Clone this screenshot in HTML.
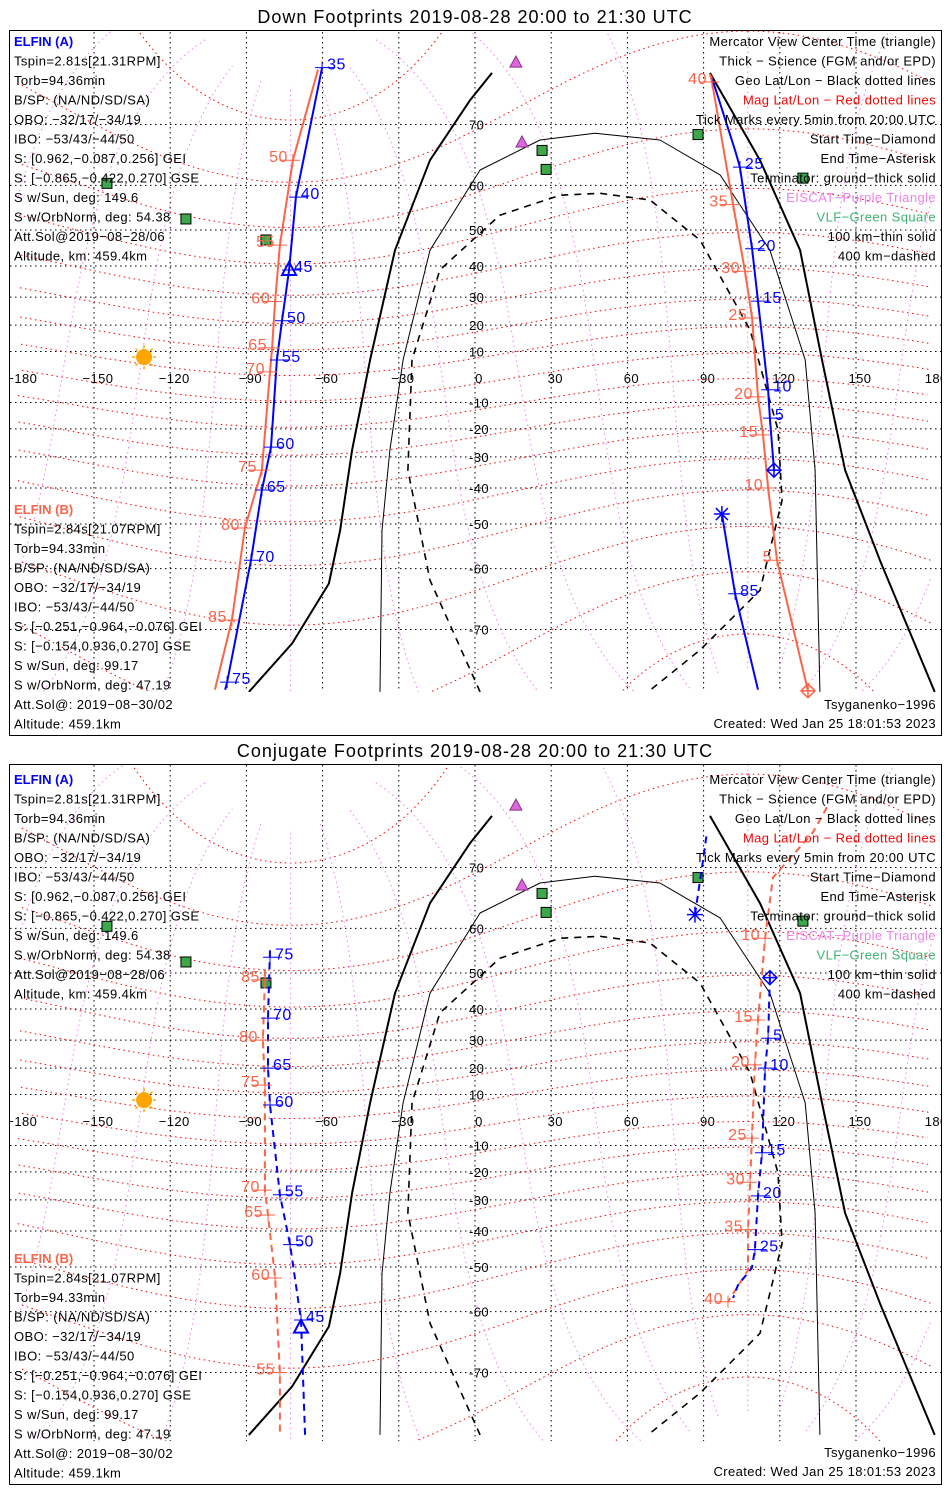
<!DOCTYPE html>
<html><head><meta charset="utf-8">
<style>
html,body{margin:0;padding:0;background:#fff;}
svg{display:block;font-family:"Liberation Sans",sans-serif;}
.t{font-size:13px;letter-spacing:0.4px;fill:#000;}
.ttl{font-size:18px;letter-spacing:1px;fill:#000;}
</style></head>
<body>
<svg id="svg" width="950" height="1500" viewBox="0 0 950 1500" xmlns="http://www.w3.org/2000/svg">
<defs>
<clipPath id="clip1"><rect x="10" y="31" width="931" height="661"/></clipPath>
<clipPath id="clip2"><rect x="10" y="765" width="931" height="676"/></clipPath>
</defs>
<rect x="0" y="0" width="950" height="1500" fill="#fff"/>
<text class="ttl" x="475" y="23" text-anchor="middle">Down Footprints 2019-08-28 20:00 to 21:30 UTC</text>
<text class="ttl" x="475" y="757" text-anchor="middle">Conjugate Footprints 2019-08-28 20:00 to 21:30 UTC</text>
<rect x="9.5" y="30.5" width="932" height="705" fill="none" stroke="#000"/>
<rect x="9.5" y="764.5" width="932" height="720" fill="none" stroke="#000"/>
<g id="map1" clip-path="url(#clip1)"></g>
<g id="map2" clip-path="url(#clip2)"></g>
<g id="mk1"></g>
<g id="mk2"></g>
<g id="txt"></g>
</svg>
<script>
// ---------- data (geographic lon/lat in degrees) ----------
const gridLats=[-70,-60,-50,-40,-30,-20,-10,10,20,30,40,50,60,70];
const gridLons=[-150,-120,-90,-60,-30,0,30,60,90,120,150];
const lonTickLabels=[-180,-150,-120,-90,-60,-30,0,30,60,90,120,150,180];
const magLats=[-80,-70,-60,-50,-40,-30,-20,-10,0,10,20,30,40,50,60,70,80];
const magLons=[-180,-150,-120,-90,-60,-30,0,30,60,90,120,150];
const dipolePole=[80.6,-72.6];
// terminators
const termGroundLeftLon=[-89,-72,-57.5,-53.1,-48.4,-41.3,-31.5,-17.7,-2,6.7];
const termGroundLeftLat=[-76.9,-71.8,-62.8,-51.6,-27.6,6.7,44.6,64.6,73,75.9];
const termGroundRightLon=[92.5,112.2,128,136.6,145.7,159.4,181];
const termGroundRightLat=[75.9,64.6,44.6,6.7,-34.4,-58.3,-76.9];
const term100Lon=[-37.4,-36.6,-33.5,-28.3,-17.7,2,25.6,47.2,72.8,96.5,116.1,130,133.9,135.8];
const term100Lat=[-76.9,-51.6,-27.6,6.7,44.6,62.9,67.8,68.8,67.8,62,44.6,6.7,-34.4,-76.9];
const term400Lon=[2,-17.7,-26.4,-24.8,-13.8,9.8,33.5,49.2,68.9,88.6,108.3,119.3,120.9,112.2,88.6,68.1];
const term400Lat=[-76.9,-62.2,-34.4,6.7,38.8,53.6,58,58.4,57,47.4,18.2,-20.4,-43.6,-64,-72.6,-76.9];
// stations
const vlfLon=[-144.9,-113.8,-82.3,26.4,28,87.8,129.1];
const vlfLat=[60.4,52.7,47.4,66.2,63,68.6,61.4];
const eiscatLon=[16.1,18.5];
const eiscatLat=[76.9,67.5];
const sunLon=[-130.3];
const sunLat=[7.8];
// ---- panel 1 (down footprints) ----
const d1BlueALon=[-60.2,-70.5,-73.2,-76,-78,-80.3,-83.9,-88.2,-97.6,-98.4];
const d1BlueALat=[76.4,57.6,38.8,21.6,6.7,-26.6,-40.6,-58.3,-76,-76.7];
const d1BlueATickLon=[-60.2,-70.5,-73.2,-76,-78,-80.3,-83.9,-88.2,-97.6];
const d1BlueATickLat=[76.4,57.6,38.8,21.6,6.7,-26.6,-40.6,-58.3,-76];
const d1BlueATickLab=[35,40,45,50,55,60,65,70,75];
const d1RedALon=[-61.8,-71.7,-76.8,-78.7,-79.9,-80.7,-83.9,-90.6,-95.7,-102.4];
const d1RedALat=[76.2,64.6,46,28.5,11.4,2,-34.4,-51,-68.7,-76.7];
const d1RedATickLon=[-71.7,-76.8,-78.7,-79.9,-80.7,-83.9,-90.6,-95.7];
const d1RedATickLat=[64.6,46,28.5,11.4,2,-34.4,-51,-68.7];
const d1RedATickLab=[50,55,60,65,70,75,80,85];
const d1BlueBLon=[93.3,102.4,104.3,109.1,111.4,115.4,116.1,117.7];
const d1BlueBLat=[75.4,66.2,63.4,45,28.6,-5,-16,-34.4];
const d1BlueB2Lon=[97.2,102.4,111.4];
const d1BlueB2Lat=[-47.4,-64.6,-76.7];
const d1BlueBTickLon=[104.3,109.1,111.4,115.4,116.1,102.4];
const d1BlueBTickLat=[63.4,45,28.6,-5,-16,-64.6];
const d1BlueBTickLab=[25,20,15,10,5,85];
const d1RedBLon=[92.5,93.3,101.6,106.3,109.1,111.4,113.4,115.4,118.9,131.1];
const d1RedBLat=[75.8,75,56,38.4,22.6,-7.8,-22.2,-40,-58.3,-76.8];
const d1RedBTickLon=[93.3,101.6,106.3,109.1,111.4,113.4,115.4,118.9];
const d1RedBTickLat=[75,56,38.4,22.6,-7.8,-22.2,-40,-58.3];
const d1RedBTickLab=[40,35,30,25,20,15,10,5];
const d1Center=[-73.2,38.8];
const d1StartB=[117.7,-34.4];
const d1EndB=[97.2,-47.4];
const d1EndRedB=[131.1,-76.8];
// ---- panel 2 (conjugate footprints) ----
const c2BlueALon=[-80.7,-81.5,-81.5,-80.7,-76.8,-72.8,-68.5,-66.9];
const c2BlueALat=[55.4,37.2,20,5.9,-28.2,-44,-61.6,-77];
const c2BlueATickLon=[-80.7,-81.5,-81.5,-80.7,-76.8,-72.8,-68.5];
const c2BlueATickLat=[53.8,37.2,20,5.9,-28.2,-44,-61.6];
const c2BlueATickLab=[75,70,65,60,55,50,45];
const c2RedALon=[-82.7,-82.7,-83.5,-82.7,-82.7,-81.5,-78.7,-76.8,-76.8];
const c2RedALat=[50.9,48.2,30,13.6,-26.6,-35,-52.7,-70,-77];
const c2RedATickLon=[-82.7,-83.5,-82.7,-82.7,-81.5,-78.7,-76.8];
const c2RedATickLat=[48.2,30,13.6,-26.6,-35,-52.7,-70];
const c2RedATickLab=[85,80,75,70,65,60,55];
const c2BlueBLon=[116.1,115.4,114.2,113,111.4,110.2,109,103.5,101.6];
const c2BlueBLat=[48.8,30.6,20,-12.8,-28.6,-45.4,-50.2,-54.4,-57.2];
const c2BlueB2Lon=[86.6,89.8,91.3];
const c2BlueB2Lat=[62.6,71,74.2];
const c2BlueBTickLon=[115.4,114.2,113,111.4,110.2];
const c2BlueBTickLat=[30.6,20,-12.8,-28.6,-45.4];
const c2BlueBTickLab=[5,10,15,20,25];
const c2RedBLon=[138.6,133,117.3,114.2,111.4,110.2,109,108.3,107.5,107.5,99.6];
const c2RedBLat=[76.7,74.2,68.6,58,36.6,21.2,-7.1,-23.8,-39.6,-50.8,-58];
const c2RedBTickLon=[114.2,111.4,110.2,109,108.3,107.5,99.6];
const c2RedBTickLat=[58,36.6,21.2,-7.1,-23.8,-39.6,-58];
const c2RedBTickLab=[10,15,20,25,30,35,40];
const c2Center=[-68.5,-63];
const c2StartB=[116.1,48.8];
const c2EndB=[86.6,62.6];

// ---------- axis functions ----------
const NS='http://www.w3.org/2000/svg';
const BLUE='#0000ff', RED='#ff6347', MAG='#ee82ee', GREEN='#3cb371';
function xOf(lon){return 475+lon*2.54;}
function yOf(lat,eq){return eq-145.5*Math.log(Math.tan(Math.PI/4+lat*Math.PI/360));}
function mk(parent,tag,attrs,txt){const e=document.createElementNS(NS,tag);for(const k in attrs)e.setAttribute(k,attrs[k]);if(txt!==undefined)e.textContent=txt;parent.appendChild(e);return e;}
function ptsStr(lons,lats,eq){return lons.map((l,i)=>xOf(l).toFixed(1)+','+yOf(lats[i],eq).toFixed(1)).join(' ');}
function magToGeo(mlat,mlon){
  const r=Math.PI/180, th=(90-dipolePole[0])*r, ph=dipolePole[1]*r;
  const x=Math.cos(mlat*r)*Math.cos(mlon*r), y=Math.cos(mlat*r)*Math.sin(mlon*r), z=Math.sin(mlat*r);
  const x1=x*Math.cos(th)+z*Math.sin(th), z1=-x*Math.sin(th)+z*Math.cos(th);
  const X=x1*Math.cos(ph)-y*Math.sin(ph), Y=x1*Math.sin(ph)+y*Math.cos(ph);
  return [Math.atan2(Y,X)/r, Math.asin(Math.max(-1,Math.min(1,z1)))/r];
}
function magPolyline(g,seq,eq,color,name){
  let segs=[[]], prev=null;
  seq.forEach(p=>{const [lo,la]=p; if(Math.abs(la)>85){prev=null;segs.push([]);return;}
    if(prev!==null&&Math.abs(lo-prev)>180)segs.push([]);
    segs[segs.length-1].push(xOf(lo).toFixed(1)+','+yOf(la,eq).toFixed(1)); prev=lo;});
  segs.forEach(s=>{if(s.length<2)return;
    const el=mk(g,'polyline',{points:s.join(' '),fill:'none',stroke:color,'stroke-width':1,'stroke-dasharray':'1.5,3.5'});
    
    
  });
}

function drawPanel(g,gm,eq,cfg){
  gridLats.forEach(la=>{const y=yOf(la,eq);
    const l=mk(g,'line',{x1:10,x2:941,y1:y,y2:y,stroke:'#000','stroke-width':1,'stroke-dasharray':'1.5,3.5'});
    
    
    const t=mk(g,'text',{x:469,y:y+5,class:'t'},String(la));
    
    
  });
  gridLons.forEach(lo=>{const x=xOf(lo);
    const l=mk(g,'line',{x1:x,x2:x,y1:eq-420,y2:eq+420,stroke:'#000','stroke-width':1,'stroke-dasharray':'1.5,3.5'});
    
    
  });
  lonTickLabels.forEach(lo=>{
    const t=mk(g,'text',{x:xOf(lo)+4,y:eq+6,class:'t','text-anchor':'middle'},String(lo).replace('-','\u2212'));
    
    
  });
  magLats.forEach(m=>{const seq=[];for(let ml=-180;ml<=180;ml+=2)seq.push(magToGeo(m,ml));magPolyline(g,seq,eq,'#ff0000','mag-lat-line');});
  magLons.forEach(m=>{const seq=[];for(let ml=-84;ml<=84;ml+=1)seq.push(magToGeo(ml,m));magPolyline(g,seq,eq,MAG,'mag-lon-line');});
  [[termGroundLeftLon,termGroundLeftLat,2,'none','terminator-ground-west'],
   [termGroundRightLon,termGroundRightLat,2,'none','terminator-ground-east'],
   [term100Lon,term100Lat,1,'none','terminator-100km'],
   [term400Lon,term400Lat,1.6,'7,6','terminator-400km']].forEach(tm=>{
    const p=mk(g,'polyline',{points:ptsStr(tm[0],tm[1],eq),fill:'none',stroke:'#000','stroke-width':tm[2],'stroke-dasharray':tm[3],'stroke-linejoin':'round'});
    
    
  });
  vlfLon.forEach((lo,i)=>{const x=xOf(lo),y=yOf(vlfLat[i],eq);
    const r=mk(g,'rect',{x:x-5,y:y-5,width:10,height:10,fill:'#3ca84a',stroke:'#000','stroke-width':1});
    
    
  });
  eiscatLon.forEach((lo,i)=>{const x=xOf(lo),y=yOf(eiscatLat[i],eq);
    const p=mk(g,'polygon',{points:`${x},${y-6} ${x-6},${y+5} ${x+6},${y+5}`,fill:'#dd66dd',stroke:'#8a2f8a','stroke-width':1});
    
    
  });
  const sx=xOf(sunLon[0]), sy=yOf(sunLat[0],eq);
  const sun=mk(g,'g',{});
  
  
  for(let a=0;a<360;a+=45){const r=Math.PI*a/180;mk(sun,'line',{x1:sx+9*Math.cos(r),y1:sy+9*Math.sin(r),x2:sx+12*Math.cos(r),y2:sy+12*Math.sin(r),stroke:'#ffa500','stroke-width':1.5});}
  mk(sun,'circle',{cx:sx,cy:sy,r:8,fill:'#ffa500'});
  cfg.tracks.forEach(tr=>{
    const p=mk(g,'polyline',{points:ptsStr(tr.lon,tr.lat,eq),fill:'none',stroke:tr.color,'stroke-width':2,'stroke-dasharray':cfg.dash});
    
    
  });
  cfg.ticks.forEach(tk=>{
    tk.lon.forEach((lo,i)=>{const x=xOf(lo),y=yOf(tk.lat[i],eq);
      const right=tk.side>0;
      const hl=mk(g,'line',{x1:right?x-7:x-12,x2:right?x+12:x+7,y1:y,y2:y,stroke:tk.color,'stroke-width':1});
      
      
      const vl=mk(g,'line',{x1:x,x2:x,y1:y-6,y2:y+6,stroke:tk.color,'stroke-width':1});
      
      
      const t=mk(g,'text',{x:right?x+5:x-5,y:y+2,'text-anchor':right?'start':'end',fill:tk.color,'font-size':'16px','letter-spacing':'0.5px'},String(tk.lab[i]));
      
      
    });
  });
  const cx=xOf(cfg.center[0]), cy=yOf(cfg.center[1],eq);
  const tri=mk(gm,'polygon',{points:`${cx},${cy-8} ${cx-7},${cy+5} ${cx+7},${cy+5}`,fill:'none',stroke:BLUE,'stroke-width':2});
  
  
  cfg.diamonds.forEach(d=>{const x=xOf(d[0]),y=yOf(d[1],eq);
    const dm=mk(gm,'g',{stroke:d[2],'stroke-width':1.5,fill:'none'});
    
    
    mk(dm,'polygon',{points:`${x},${y-7} ${x+7},${y} ${x},${y+7} ${x-7},${y}`});
    mk(dm,'line',{x1:x-7,x2:x+7,y1:y,y2:y});mk(dm,'line',{x1:x,x2:x,y1:y-7,y2:y+7});
  });
  cfg.asterisks.forEach(d=>{const x=xOf(d[0]),y=yOf(d[1],eq);
    const as=mk(gm,'g',{stroke:BLUE,'stroke-width':1.5});
    
    
    mk(as,'line',{x1:x-8,x2:x+8,y1:y,y2:y});mk(as,'line',{x1:x,x2:x,y1:y-8,y2:y+8});
    mk(as,'line',{x1:x-6,x2:x+6,y1:y-6,y2:y+6});mk(as,'line',{x1:x-6,x2:x+6,y1:y+6,y2:y-6});
  });
}

drawPanel(document.getElementById('map1'),document.getElementById('mk1'),377,{dash:'none',center:d1Center,
  tracks:[{lon:d1RedALon,lat:d1RedALat,color:RED,name:'elfin-b-west-track'},
          {lon:d1BlueALon,lat:d1BlueALat,color:BLUE,name:'elfin-a-west-track'},
          {lon:d1RedBLon,lat:d1RedBLat,color:RED,name:'elfin-b-east-track'},
          {lon:d1BlueBLon,lat:d1BlueBLat,color:BLUE,name:'elfin-a-east-track'},
          {lon:d1BlueB2Lon,lat:d1BlueB2Lat,color:BLUE,name:'elfin-a-east-track-end'}],
  ticks:[{lon:d1BlueATickLon,lat:d1BlueATickLat,lab:d1BlueATickLab,color:BLUE,side:1},
         {lon:d1RedATickLon,lat:d1RedATickLat,lab:d1RedATickLab,color:RED,side:-1},
         {lon:d1BlueBTickLon,lat:d1BlueBTickLat,lab:d1BlueBTickLab,color:BLUE,side:1},
         {lon:d1RedBTickLon,lat:d1RedBTickLat,lab:d1RedBTickLab,color:RED,side:-1}],
  diamonds:[[d1StartB[0],d1StartB[1],BLUE],[d1EndRedB[0],d1EndRedB[1],RED]],
  asterisks:[d1EndB]});
drawPanel(document.getElementById('map2'),document.getElementById('mk2'),1120,{dash:'7,5',center:c2Center,
  tracks:[{lon:c2RedALon,lat:c2RedALat,color:RED,name:'elfin-b-west-track'},
          {lon:c2BlueALon,lat:c2BlueALat,color:BLUE,name:'elfin-a-west-track'},
          {lon:c2RedBLon,lat:c2RedBLat,color:RED,name:'elfin-b-east-track'},
          {lon:c2BlueBLon,lat:c2BlueBLat,color:BLUE,name:'elfin-a-east-track'},
          {lon:c2BlueB2Lon,lat:c2BlueB2Lat,color:BLUE,name:'elfin-a-east-track-end'}],
  ticks:[{lon:c2BlueATickLon,lat:c2BlueATickLat,lab:c2BlueATickLab,color:BLUE,side:1},
         {lon:c2RedATickLon,lat:c2RedATickLat,lab:c2RedATickLab,color:RED,side:-1},
         {lon:c2BlueBTickLon,lat:c2BlueBTickLat,lab:c2BlueBTickLab,color:BLUE,side:1},
         {lon:c2RedBTickLon,lat:c2RedBTickLat,lab:c2RedBTickLab,color:RED,side:-1}],
  diamonds:[[c2StartB[0],c2StartB[1],BLUE]],
  asterisks:[c2EndB]});

// ---------- text blocks ----------
const txt=document.getElementById('txt');
const infoA=['Tspin=2.81s[21.31RPM]','Torb=94.36min','B/SP: (NA/ND/SD/SA)','OBO: \u221232/17/\u221234/19','IBO: \u221253/43/\u221244/50','S: [0.962,\u22120.087,0.256] GEI','S: [\u22120.865,\u22120.422,0.270] GSE','S w/Sun, deg: 149.6','S w/OrbNorm, deg: 54.38','Att.Sol@2019\u221208\u221228/06','Altitude, km: 459.4km'];
const infoB=['Tspin=2.84s[21.07RPM]','Torb=94.33min','B/SP: (NA/ND/SD/SA)','OBO: \u221232/17/\u221234/19','IBO: \u221253/43/\u221244/50','S: [\u22120.251,\u22120.964,\u22120.076] GEI','S: [\u22120.154,0.936,0.270] GSE','S w/Sun, deg: 99.17','S w/OrbNorm, deg: 47.19','Att.Sol@: 2019\u221208\u221230/02','Altitude: 459.1km'];
const legend=[['Mercator View Center Time (triangle)','#000'],['Thick \u2212 Science (FGM and/or EPD)','#000'],['Geo Lat/Lon \u2212 Black dotted lines','#000'],['Mag Lat/Lon \u2212 Red dotted lines','#ff0000'],['Tick Marks every 5min from 20:00 UTC','#000'],['Start Time\u2212Diamond','#000'],['End Time\u2212Asterisk','#000'],['Terminator: ground\u2212thick solid','#000'],['EISCAT\u2212Purple Triangle',MAG],['VLF\u2212Green Square',GREEN],['100 km\u2212thin solid','#000'],['400 km\u2212dashed','#000']];
const LH=19.5;
[[0,0,0],[738,749,748]].forEach((o,pi)=>{
  const off=o[0], offB=o[1], offM=o[2];
  const pn=pi===0?'down':'conjugate';
  const a=mk(txt,'text',{x:14,y:46+off,fill:BLUE,'font-size':'13px','font-weight':'bold'},'ELFIN (A)');
  
  
  infoA.forEach((s,i)=>{const t=mk(txt,'text',{x:14,y:65.5+off+i*LH,class:'t'},s);
    
    });
  const b=mk(txt,'text',{x:14,y:514+offB,fill:RED,'font-size':'13px','font-weight':'bold'},'ELFIN (B)');
  
  
  infoB.forEach((s,i)=>{const t=mk(txt,'text',{x:14,y:533.5+offB+i*LH,class:'t'},s);
    
    });
  legend.forEach((s,i)=>{const t=mk(txt,'text',{x:936,y:46+off+i*LH,class:'t','text-anchor':'end',style:'fill:'+s[1]},s[0]);
    
    });
  const m=mk(txt,'text',{x:936,y:709+offM,class:'t','text-anchor':'end'},'Tsyganenko\u22121996');
  
  
  const c=mk(txt,'text',{x:936,y:728+offM,class:'t','text-anchor':'end'},'Created: Wed Jan 25 18:01:53 2023');
  
  
});
</script>
</body></html>
